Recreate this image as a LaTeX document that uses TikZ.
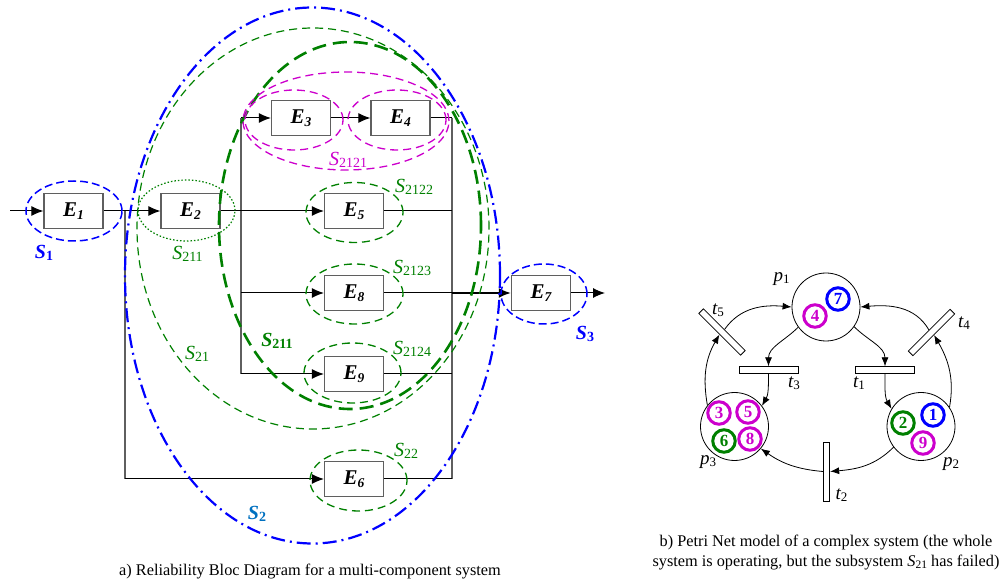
\documentclass[tikz,border=0pt]{standalone}
\usepackage{fontspec}
\setmainfont{Liberation Serif}
\usetikzlibrary{shapes.geometric,arrows.meta}
\definecolor{cblue}{RGB}{0,0,255}
\definecolor{cgreen}{RGB}{0,128,0}
\definecolor{cmag}{RGB}{204,0,204}
\definecolor{clblue}{RGB}{0,112,192}
\definecolor{cgray}{RGB}{95,95,95}
\newcommand{\Elab}[1]{{\fontsize{21}{21}\selectfont\bfseries\itshape E\raisebox{-3pt}{\fontsize{13.5}{13.5}\selectfont #1}}}
\newcommand{\Slab}[1]{{\fontsize{20}{20}\selectfont\itshape S}\raisebox{-2pt}{\fontsize{14}{14}\selectfont #1}}
\newcommand{\SlabB}[1]{{\fontsize{20}{20}\selectfont\bfseries\itshape S}\raisebox{-2pt}{\fontsize{14}{14}\selectfont\bfseries #1}}
\newcommand{\Plab}[2]{{\fontsize{19}{19}\selectfont\itshape #1}\raisebox{-2pt}{\fontsize{13}{13}\selectfont #2}}
\begin{document}
\begin{tikzpicture}[x=1pt,y=1pt,
  blk/.style={draw=cgray, line width=1.3pt, fill=white, minimum width=59pt, minimum height=35pt, inner sep=0pt},
  wire/.style={line width=1pt, black},
  vwire/.style={line width=1.3pt, cgray},
  arr/.style={wire, -{Latex[length=12pt,width=10pt]}},
  ell/.style={ellipse, inner sep=0pt},
  sdash/.style={ell, draw=cgreen, line width=1.3pt, dash pattern=on 8pt off 5pt},
  pdash/.style={ell, draw=cmag, line width=1.3pt, dash pattern=on 8pt off 5pt},
  lab/.style={inner sep=0pt},
  place/.style={circle, draw, line width=0.8pt, minimum size=68pt, inner sep=0pt},
  trans/.style={rectangle, draw, line width=0.8pt, fill=white, minimum width=59pt, minimum height=6.5pt, inner sep=0pt},
  tok/.style={circle, draw=#1, line width=3pt, minimum size=22.5pt, inner sep=0pt, text=#1, font=\fontsize{17}{17}\selectfont\bfseries},
  parc/.style={line width=0.8pt, -{Latex[length=9pt,width=7pt]}},
  captxt/.style={inner sep=0pt, font=\fontsize{16.3}{20}\selectfont, align=center}
]
\useasboundingbox (0,0) rectangle (1005,-585);

% ---------- blocks ----------
\node[blk] (E1) at (73.5,-211) {\Elab{1}};
\node[blk] (E2) at (190.5,-211) {\Elab{2}};
\node[blk] (E3) at (301,-118) {\Elab{3}};
\node[blk] (E4) at (400.5,-118) {\Elab{4}};
\node[blk] (E5) at (354,-211) {\Elab{5}};
\node[blk] (E8) at (354,-293) {\Elab{8}};
\node[blk] (E9) at (354,-374) {\Elab{9}};
\node[blk] (E6) at (354,-479) {\Elab{6}};
\node[blk] (E7) at (541,-293) {\Elab{7}};

\coordinate (in) at (10,-211);
\coordinate (j1) at (125,-211);
\coordinate (j1b) at (125,-479);
\coordinate (j2t) at (241,-118);
\coordinate (j2c) at (241,-293);
\coordinate (j2b) at (241,-374);
\coordinate (k1) at (452,-118);
\coordinate (k2) at (452,-211);
\coordinate (k3) at (452,-293);
\coordinate (k4) at (452,-374);
\coordinate (k5) at (452,-479);
\coordinate (out) at (605,-293);

\draw[vwire] (j1) -- (j1b);
\draw[vwire] (j2t) -- (j2b);
\draw[vwire] (k1) -- (k5);
\draw[arr] (in) -- (E1);
\draw[arr] (E1) -- (E2);
\draw[arr] (E2) -- (E5);
\draw[arr] (j1b) -- (E6);
\draw[arr] (j2t) -- (E3);
\draw[arr] (E3) -- (E4);
\draw[arr] (j2c) -- (E8);
\draw[arr] (j2b) -- (E9);
\draw[wire] (E4) -- (k1);
\draw[wire] (E5) -- (k2);
\draw[wire] (E8) -- (k3);
\draw[wire] (E9) -- (k4);
\draw[wire] (E6) -- (k5);
\draw[arr, line width=2pt, -{Latex[length=12pt,width=10pt]}] (k3) -- (E7);
\draw[arr] (E7) -- (out);

% ---------- subsystem ellipses ----------
\node[ell, draw=cblue, line width=1.5pt, dash pattern=on 8pt off 4pt, minimum width=96pt, minimum height=60pt] (eS1) at (74,-211) {};
\node[ell, draw=cgreen, line width=1.2pt, dash pattern=on 1.5pt off 2pt, minimum width=97pt, minimum height=61pt] (eS211) at (186.5,-210.5) {};
\node[ell, draw=cblue, line width=2.2pt, dash pattern=on 14pt off 5pt on 2pt off 5pt, minimum width=375pt, minimum height=536pt] (eS2) at (312.5,-275.5) {};
\node[ell, draw=cgreen, line width=1.2pt, dash pattern=on 8pt off 5pt, minimum width=352pt, minimum height=401pt] (eS21) at (313,-228.5) {};
\node[ell, draw=cgreen, line width=2.6pt, dash pattern=on 14pt off 7pt, minimum width=262pt, minimum height=367pt] (eS211b) at (350,-225.5) {};
\node[pdash, minimum width=98pt, minimum height=60pt] (eE3) at (294,-120) {};
\node[pdash, minimum width=98pt, minimum height=60pt] (eE4) at (397,-120) {};
\node[pdash, minimum width=206pt, minimum height=98pt] (eS2121) at (346,-121) {};
\node[sdash, minimum width=97pt, minimum height=60pt] (eS2122) at (354.5,-212.5) {};
\node[sdash, minimum width=97pt, minimum height=60pt] (eS2123) at (354.5,-294) {};
\node[sdash, minimum width=97pt, minimum height=60pt] (eS2124) at (352.5,-373) {};
\node[sdash, minimum width=97pt, minimum height=61pt] (eS22) at (358.5,-480.5) {};
\node[ell, draw=cblue, line width=1.5pt, dash pattern=on 8pt off 4pt, minimum width=86pt, minimum height=60pt] (eS3) at (544,-294) {};

% ---------- labels ----------
\node[lab, text=cblue] (lS1) at (44,-253) {\SlabB{1}};
\node[lab, text=cgreen] (lS211) at (187.5,-254) {\Slab{211}};
\node[lab, text=cmag] (lS2121) at (348,-160) {\Slab{2121}};
\node[lab, text=cgreen] (lS2122) at (414,-187) {\Slab{2122}};
\node[lab, text=cgreen] (lS2123) at (412,-268) {\Slab{2123}};
\node[lab, text=cgreen] (lS2124) at (412,-349) {\Slab{2124}};
\node[lab, text=cgreen] (lS22) at (406,-451) {\Slab{22}};
\node[lab, text=cgreen] (lS21) at (197,-354) {\Slab{21}};
\node[lab, text=cgreen] (lS211b) at (277,-341) {\SlabB{211}};
\node[lab, text=clblue] (lS2) at (257,-514) {\SlabB{2}};
\node[lab, text=cblue] (lS3) at (585,-334) {\SlabB{3}};

\node[captxt] (capa) at (310,-572) {a) Reliability Bloc Diagram for a multi-component system};

% ---------- Petri net ----------
\node[place] (p1) at (826,-307) {};
\node[place] (p2) at (921,-426.5) {};
\node[place] (p3) at (734.5,-426.5) {};
\node[trans] (t1) at (885,-370) {};
\node[trans] (t3) at (768.5,-370) {};
\node[trans, minimum width=6.5pt, minimum height=59pt] (t2) at (826.5,-471.5) {};
\node[trans, rotate=45] (t4) at (931.5,-332.5) {};
\node[trans, rotate=-45] (t5) at (722,-332) {};

\node[tok=cmag] (k4) at (815,-316) {4};
\node[tok=cblue] (k7) at (838,-299) {7};
\node[tok=cmag] (k3) at (719,-413) {3};
\node[tok=cmag] (k5) at (748,-412) {5};
\node[tok=cgreen] (k6) at (724,-441) {6};
\node[tok=cmag] (k8) at (750,-439) {8};
\node[tok=cgreen] (k2) at (903,-423) {2};
\node[tok=cblue] (k1) at (933,-415) {1};
\node[tok=cmag] (k9) at (923,-443) {9};

\draw[parc] (p1.216) to[out=225,in=90] (t3.north);
\draw[parc] (t3.south) to[out=-90,in=60] (p3.37);
\draw[parc] (p1.-35) to[out=-45,in=90] (t1.north);
\draw[parc] (t1.south) to[out=-90,in=120] (p2.149);
\draw[parc] (p2.34) to[out=80,in=-60] (t4.south);
\draw[parc] (t4.north) to[out=120,in=5] (p1.east);
\draw[parc] (p2.217) to[out=225,in=5] (t2.east);
\draw[parc] (t2.west) to[out=175,in=-35] (p3.-40);
\draw[parc] (p3.142) to[out=100,in=-120] (t5.south);
\draw[parc] (t5.north) to[out=55,in=175] (p1.west);

\node[lab] (lp1) at (781.5,-279.5) {\Plab{p}{1}};
\node[lab] (lp2) at (951,-464) {\Plab{p}{2}};
\node[lab] (lp3) at (708,-462) {\Plab{p}{3}};
\node[lab] (lt1) at (859,-383) {\Plab{t}{1}};
\node[lab] (lt2) at (841.5,-495) {\Plab{t}{2}};
\node[lab] (lt3) at (794,-383) {\Plab{t}{3}};
\node[lab] (lt4) at (964,-323) {\Plab{t}{4}};
\node[lab] (lt5) at (718,-310) {\Plab{t}{5}};

\node[captxt] (capb) at (826,-553) {b) Petri Net model of a complex system (the whole\\system is operating, but the subsystem \textit{S}\raisebox{-1.5pt}{\fontsize{11.5}{11.5}\selectfont 21} has failed)};
\end{tikzpicture}
\end{document}
